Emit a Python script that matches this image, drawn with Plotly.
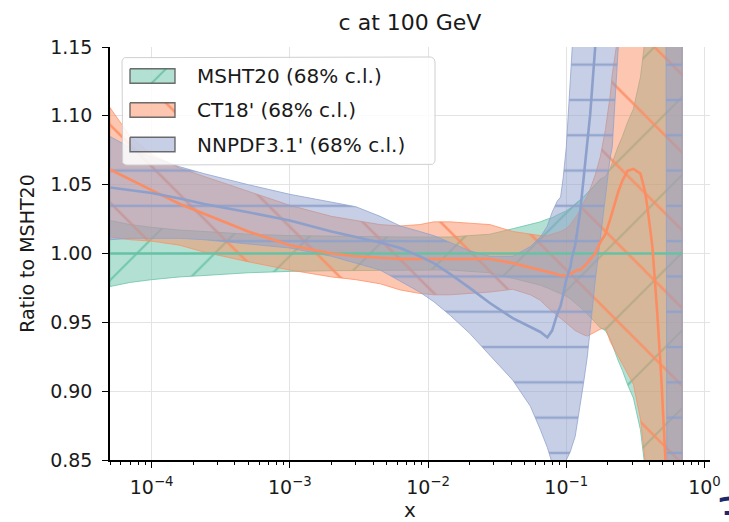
import numpy as np
import plotly.graph_objects as go

# ---------------- data ----------------
X = [5e-5, 7e-5, 1e-4, 1.6e-4, 2.4e-4, 5e-4, 1e-3, 2e-3, 3e-3, 4.5e-3,
     6.3e-3, 8.7e-3, 0.011, 0.0145, 0.02, 0.028, 0.041, 0.055, 0.065, 0.073,
     0.079, 0.086, 0.091, 0.095, 0.10, 0.107, 0.11, 0.116, 0.12, 0.126,
     0.133, 0.142, 0.149, 0.162, 0.176, 0.192, 0.208, 0.215, 0.238, 0.255,
     0.277, 0.306, 0.344, 0.361, 0.373, 0.386, 0.42, 0.456, 0.488, 0.521,
     0.54, 0.568, 0.617, 0.69]

# MSHT20 (reference set: central ratio is 1 by construction)
msht_central = [1.0] * 54
msht_err = [0.024, 0.021, 0.019, 0.017, 0.016, 0.014, 0.013, 0.0125, 0.012, 0.012,
            0.012, 0.012, 0.012, 0.012, 0.013, 0.014, 0.018, 0.021, 0.023, 0.025,
            0.026, 0.028, 0.029, 0.030, 0.031, 0.033, 0.034, 0.036, 0.037, 0.039,
            0.041, 0.044, 0.046, 0.050, 0.054, 0.056, 0.062, 0.066, 0.078, 0.085,
            0.095, 0.105, 0.128, 0.145, 0.155, 0.170, 0.200, 0.240, 0.280, 0.330,
            0.360, 0.400, 0.450, 0.500]

# CT18' (central line visible up to x = 0.54, band up to 0.69)
X_CT_LINE = X[:51]
ct_central = [1.061, 1.054, 1.046, 1.036, 1.029, 1.016, 1.006, 1.000, 0.998, 0.997,
              0.996, 0.996, 0.996, 0.996, 0.996, 0.996, 0.993, 0.990, 0.988, 0.987,
              0.986, 0.985, 0.984, 0.984, 0.984, 0.985, 0.986, 0.987, 0.988, 0.988,
              0.990, 0.993, 0.996, 1.000, 1.008, 1.014, 1.025, 1.030, 1.045, 1.053,
              1.060, 1.0615, 1.058, 1.050, 1.044, 1.034, 1.005, 0.956, 0.908, 0.852,
              0.800]
ct_hi = [1.106, 1.085, 1.072, 1.062, 1.056, 1.045, 1.035, 1.027, 1.024, 1.021,
         1.020, 1.021, 1.023, 1.023, 1.022, 1.021, 1.016, 1.014, 1.013, 1.013,
         1.014, 1.015, 1.016, 1.017, 1.018, 1.021, 1.023, 1.026, 1.028, 1.032,
         1.036, 1.042, 1.047, 1.057, 1.070, 1.090, 1.115, 1.130, 1.160, 1.190,
         1.230, 1.280, 1.350, 1.380, 1.400, 1.420, 1.480, 1.550, 1.600, 1.650,
         1.700, 1.750, 1.800, 1.850]
ct_lo = [1.012, 1.010, 1.009, 1.006, 1.001, 0.994, 0.988, 0.983, 0.981, 0.978,
         0.9735, 0.971, 0.970, 0.970, 0.971, 0.972, 0.974, 0.970, 0.966, 0.961,
         0.958, 0.955, 0.953, 0.951, 0.949, 0.947, 0.946, 0.944, 0.943, 0.942,
         0.941, 0.940, 0.941, 0.943, 0.945, 0.946, 0.936, 0.933, 0.925, 0.920,
         0.913, 0.905, 0.880, 0.862, 0.850, 0.835, 0.780, 0.700, 0.600, 0.500,
         0.400, 0.350, 0.300, 0.250]

# NNPDF3.1'
nn_central = [1.048, 1.046, 1.044, 1.040, 1.036, 1.030, 1.024, 1.016, 1.012, 1.008,
              1.004, 0.998, 0.993, 0.985, 0.975, 0.964, 0.953, 0.947, 0.943, 0.939,
              0.944, 0.956, 0.962, 0.970, 0.981, 0.990, 0.997, 1.006, 1.015, 1.030,
              1.053, 1.080, 1.101, 1.150, 1.200, 1.260, 1.320, 1.350, 1.420, 1.470,
              1.520, 1.580, 1.650, 1.680, 1.700, 1.720, 1.760, 1.800, 1.830, 1.860,
              1.880, 1.900, 1.930, 1.980]
nn_hi = [1.085, 1.077, 1.070, 1.063, 1.058, 1.050, 1.043, 1.037, 1.034, 1.027,
         1.020, 1.016, 1.013, 1.008, 1.002, 0.998, 0.998, 1.005, 1.012, 1.020,
         1.030, 1.038, 1.041, 1.055, 1.077, 1.126, 1.150, 1.200, 1.240, 1.300,
         1.350, 1.420, 1.480, 1.550, 1.620, 1.700, 1.780, 1.820, 1.900, 1.950,
         2.000, 2.050, 2.100, 2.120, 2.140, 2.160, 2.200, 2.250, 2.300, 2.350,
         2.380, 2.400, 2.450, 2.500]
nn_lo = [1.010, 1.011, 1.011, 1.011, 1.010, 1.007, 1.004, 0.998, 0.993, 0.988,
         0.980, 0.972, 0.965, 0.955, 0.942, 0.926, 0.908, 0.889, 0.872, 0.859,
         0.848, 0.845, 0.844, 0.846, 0.850, 0.856, 0.860, 0.867, 0.875, 0.890,
         0.905, 0.925, 0.945, 0.980, 1.014, 1.041, 1.070, 1.077, 1.150, 1.200,
         1.250, 1.300, 1.350, 1.370, 1.380, 1.390, 1.400, 1.400, 1.400, 1.400,
         0.600, 0.550, 0.500, 0.500]

SERIES = ["MSHT20 (68% c.l.)", "CT18' (68% c.l.)", "NNPDF3.1' (68% c.l.)"]
X_TICKS = [1e-4, 1e-3, 1e-2, 1e-1, 1.0]
X_TICK_TEXT = ["10<sup>\u22124</sup>", "10<sup>\u22123</sup>", "10<sup>\u22122</sup>",
               "10<sup>\u22121</sup>", "10<sup>0</sup>"]
Y_TICKS = [0.85, 0.90, 0.95, 1.00, 1.05, 1.10, 1.15]

# ---------------- style ----------------
FONT = "DejaVu Sans"
C_MSHT = (102, 194, 165)
C_CT = (252, 141, 98)
C_NN = (141, 160, 203)


def rgba(c, a):
    return f"rgba({c[0]},{c[1]},{c[2]},{a})"


W, H = 729, 522
ML, MR, MT, MB = 110, 19, 47, 62
PW, PH = W - ML - MR, H - MT - MB

HATCH = {
    "msht": dict(shape="/", size=55, solidity=0.036),
    "ct": dict(shape="\\", size=55, solidity=0.046),
    "nn": dict(shape="-", size=35.3, solidity=0.075),
}

fig = go.Figure()


def add_band(x, lo, hi, col, hatch, xaxis="x", yaxis="y", edge=None, edgew=1.0):
    xs = list(x) + list(x)[::-1] + [x[0]]
    ys = list(hi) + list(lo)[::-1] + [hi[0]]
    fig.add_trace(go.Scatter(
        x=xs, y=ys, mode="lines", fill="toself",
        line=dict(color=edge if edge else rgba(col, 0.75), width=edgew),
        fillcolor=rgba(col, 0.5),
        fillpattern=dict(shape=hatch["shape"], size=hatch["size"],
                         solidity=hatch["solidity"], fgcolor=rgba(col, 1),
                         fgopacity=0.85, bgcolor=rgba(col, 0.5), fillmode="replace"),
        hoverinfo="skip", showlegend=False, xaxis=xaxis, yaxis=yaxis))


msht_lo = [c - e for c, e in zip(msht_central, msht_err)]
msht_hi = [c + e for c, e in zip(msht_central, msht_err)]

add_band(X, msht_lo, msht_hi, C_MSHT, HATCH["msht"])
add_band(X, ct_lo, ct_hi, C_CT, HATCH["ct"])
add_band(X, nn_lo, nn_hi, C_NN, HATCH["nn"])

for xs, ys, col in [(X, msht_central, C_MSHT), (X_CT_LINE, ct_central, C_CT),
                    (X, nn_central, C_NN)]:
    fig.add_trace(go.Scatter(x=xs, y=ys, mode="lines",
                             line=dict(color=rgba(col, 1), width=2.6),
                             hoverinfo="skip", showlegend=False))

# ---------------- legend (drawn on an overlay axis spanning the plot area) ----------------
def px2ov(px, py):
    return (px - ML) / PW, (MT + PH - py) / PH


bx0, by0 = px2ov(122, 165)
bx1, by1 = px2ov(435, 57)
r = 5.0
rx, ry = r / PW, r / PH
t = np.linspace(0, np.pi / 2, 7)
corners = [
    (bx1 - rx, by1 - ry, 0.0), (bx0 + rx, by1 - ry, np.pi / 2),
    (bx0 + rx, by0 + ry, np.pi), (bx1 - rx, by0 + ry, 1.5 * np.pi),
]
lx, ly = [], []
for cx, cy, a0 in corners:
    lx += list(cx + rx * np.cos(t + a0))
    ly += list(cy + ry * np.sin(t + a0))
lx.append(lx[0]); ly.append(ly[0])
fig.add_trace(go.Scatter(x=lx, y=ly, mode="lines", fill="toself",
                         fillcolor="rgba(255,255,255,0.85)",
                         line=dict(color="#cfcfcf", width=1),
                         hoverinfo="skip", showlegend=False, xaxis="x2", yaxis="y2"))

row_py = [76, 110, 144.5]
cols = [C_MSHT, C_CT, C_NN]
keys = ["msht", "ct", "nn"]
for name, py, col, key in zip(SERIES, row_py, cols, keys):
    x0, yc = px2ov(130, py)
    x1, _ = px2ov(175, py)
    hh = 7.3 / PH
    add_band([x0, x1], [yc - hh, yc - hh], [yc + hh, yc + hh], col, HATCH[key],
             xaxis="x2", yaxis="y2", edge="rgba(85,85,85,0.85)", edgew=1.4)
    tx, ty = px2ov(195, py)
    fig.add_annotation(x=tx, y=ty, xref="paper", yref="paper", text=name,
                       showarrow=False, xanchor="left", yanchor="middle",
                       font=dict(family=FONT, size=20, color="#1a1a1a"))

# slide page number peeking in at the bottom right
fig.add_annotation(x=(714 - ML) / PW, y=(MT + PH - 486) / PH, xref="paper", yref="paper",
                   text="3", showarrow=False, xanchor="left", yanchor="top", borderpad=0,
                   font=dict(family=FONT, size=48, color="#1c2a6b"))

minor_x = [m * 10.0 ** d for d in range(-5, 1) for m in range(2, 10)
           if 5e-5 <= m * 10.0 ** d <= 1.1]

fig.update_layout(
    width=W, height=H,
    margin=dict(l=ML, r=MR, t=MT, b=MB, autoexpand=False),
    paper_bgcolor="white", plot_bgcolor="white",
    font=dict(family=FONT, size=19, color="#1a1a1a"),
    title=dict(text="c at 100 GeV", x=0.5, xref="paper", xanchor="center",
               y=1 - 22 / H, yref="container", yanchor="middle",
               font=dict(family=FONT, size=22, color="#1a1a1a")),
    xaxis=dict(type="log", range=[np.log10(5e-5), 0.04], automargin=False,
               tickmode="array", tickvals=X_TICKS, ticktext=X_TICK_TEXT,
               showgrid=True, gridcolor="#e3e3e3", gridwidth=1,
               showline=True, linecolor="black", linewidth=1.5,
               ticks="outside", ticklen=6, tickwidth=1.3, tickcolor="black",
               ticklabelstandoff=3,
               minor=dict(tickmode="array", tickvals=minor_x, ticks="outside",
                          ticklen=3.5, tickwidth=1, tickcolor="black", showgrid=False),
               zeroline=False,
               title=dict(text="x", font=dict(family=FONT, size=20), standoff=4)),
    yaxis=dict(range=[0.85, 1.15], automargin=False,
               tickmode="array", tickvals=Y_TICKS,
               ticktext=[f"{v:.2f}" for v in Y_TICKS],
               showgrid=True, gridcolor="#e3e3e3", gridwidth=1,
               showline=True, linecolor="black", linewidth=1.5,
               ticks="outside", ticklen=6, tickwidth=1.3, tickcolor="black",
               ticklabelstandoff=6, zeroline=False,
               title=dict(text="Ratio to MSHT20", font=dict(family=FONT, size=19), standoff=10)),
    xaxis2=dict(overlaying="x", range=[0, 1], visible=False, fixedrange=True),
    yaxis2=dict(overlaying="y", range=[0, 1], visible=False, fixedrange=True),
)

fig.write_html("out.html")
